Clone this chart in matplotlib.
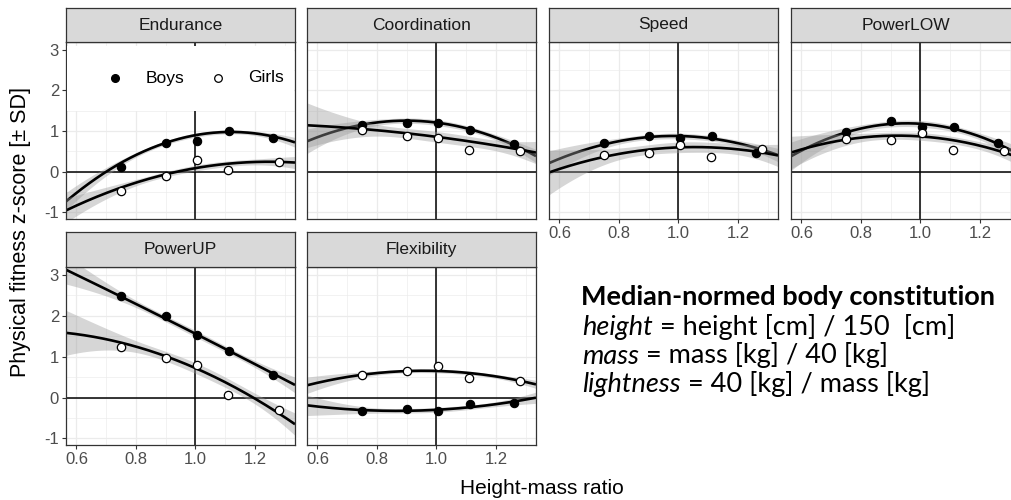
import numpy as np
import matplotlib
matplotlib.use("Agg")
import matplotlib.pyplot as plt
from matplotlib.patches import Rectangle

# ---- data ----
panels = ["Endurance", "Coordination", "Speed", "PowerLOW", "PowerUP", "Flexibility"]

x_boys = [0.75, 0.90, 1.005, 1.113, 1.26]
x_girls = [0.75, 0.90, 1.005, 1.11, 1.28]

boys_scores = [
    [0.11, 0.70, 0.76, 1.00, 0.84],
    [1.15, 1.21, 1.19, 1.02, 0.69],
    [0.70, 0.89, 0.84, 0.88, 0.46],
    [0.97, 1.24, 1.10, 1.09, 0.72],
    [2.48, 1.99, 1.52, 1.13, 0.54],
    [-0.32, -0.28, -0.32, -0.15, -0.14],
]
girls_scores = [
    [-0.48, -0.10, 0.28, 0.05, 0.23],
    [1.03, 0.89, 0.83, 0.53, 0.50],
    [0.42, 0.47, 0.65, 0.36, 0.57],
    [0.80, 0.77, 0.95, 0.54, 0.52],
    [1.23, 0.97, 0.80, 0.07, -0.31],
    [0.56, 0.65, 0.77, 0.47, 0.40],
]

# quadratic smooth, read at three x positions
curve_x = [0.6, 1.0, 1.3]
boys_curve = [
    [-0.52, 0.90, 0.80],
    [0.85, 1.21, 0.52],
    [0.32, 0.88, 0.50],
    [0.52, 1.18, 0.55],
    [3.00, 1.56, 0.44],
    [-0.22, -0.30, -0.05],
]
girls_curve = [
    [-0.83, 0.09, 0.24],
    [1.13, 0.86, 0.52],
    [0.07, 0.60, 0.45],
    [0.55, 0.87, 0.43],
    [1.55, 0.72, -0.48],
    [0.36, 0.65, 0.38],
]
# half width of the grey band at the left edge of each panel
boys_band = [0.22, 0.30, 0.30, 0.35, 0.35, 0.25]
girls_band = [0.30, 0.55, 0.55, 0.40, 0.55, 0.20]

info_title = "Median-normed body constitution"
info_lines = [("height", " = height [cm] / 150  [cm]"),
              ("mass", " = mass [kg] / 40 [kg]"),
              ("lightness", " = 40 [kg] / mass [kg]")]

# ---- layout ----
W, H = 1012, 500
fig = plt.figure(figsize=(W / 100, H / 100), dpi=100)
plt.rcParams['font.family'] = ['Liberation Sans', 'DejaVu Sans']

XLIM = (0.565, 1.335)
YLIM = (-1.16, 3.19)
col_left = [66, 307, 549, 791]
pw = 229
rows = [(8, 42, 219), (232, 267, 445)]

grid = np.linspace(XLIM[0], XLIM[1], 200)


def px_axes(x0, y0, x1, y1):
    return fig.add_axes([x0 / W, 1 - y1 / H, (x1 - x0) / W, (y1 - y0) / H])


def band(xs, left_hw):
    X = np.vander(np.array(xs), 3)
    M = np.linalg.inv(X.T @ X)
    G = np.vander(grid, 3)
    lev = np.einsum('ij,jk,ik->i', G, M, G)
    return left_hw * np.sqrt(lev / lev[0])


for i, name in enumerate(panels):
    r, c = divmod(i, 4)
    st, pt, pb = rows[r]
    x0 = col_left[c]
    ax = px_axes(x0, pt, x0 + pw, pb)
    sax = px_axes(x0, st, x0 + pw, pt)

    # strip
    sax.set_facecolor('#D9D9D9')
    sax.set_xticks([])
    sax.set_yticks([])
    for s in sax.spines.values():
        s.set_color('#333333')
        s.set_linewidth(0.9)
    sax.text(0.5, 0.5, name, ha='center', va='center', fontsize=12.5,
             color='#1A1A1A', transform=sax.transAxes)

    ax.set_xlim(*XLIM)
    ax.set_ylim(*YLIM)
    ax.set_xticks([0.6, 0.8, 1.0, 1.2])
    ax.set_xticklabels(["0.6", "0.8", "1.0", "1.2"])
    ax.set_xticks([0.7, 0.9, 1.1, 1.3], minor=True)
    ax.set_yticks([-1, 0, 1, 2, 3])
    ax.set_yticklabels(["-1", "0", "1", "2", "3"])
    ax.set_yticks([-0.5, 0.5, 1.5, 2.5], minor=True)
    ax.grid(which='major', color='#EBEBEB', lw=0.9, zorder=0)
    ax.grid(which='minor', color='#EBEBEB', lw=0.45, zorder=0)
    ax.set_axisbelow(True)
    ax.tick_params(which='minor', length=0)
    ax.tick_params(which='major', length=3, width=0.8, color='#333333',
                   labelcolor='#4D4D4D', labelsize=12, pad=2)
    for s in ax.spines.values():
        s.set_color('#333333')
        s.set_linewidth(0.9)

    show_x = r == 1 or c >= 2
    ax.tick_params(bottom=show_x, labelbottom=show_x, left=(c == 0), labelleft=(c == 0))

    ax.axhline(0, color='black', lw=1.1, zorder=1)
    ax.axvline(1.0, color='black', lw=1.1, zorder=1)

    for xs, curve, hw in [(x_boys, boys_curve[i], boys_band[i]),
                          (x_girls, girls_curve[i], girls_band[i])]:
        coef = np.polyfit(curve_x, curve, 2)
        yfit = np.polyval(coef, grid)
        half = band(xs, hw)
        ax.fill_between(grid, yfit - half, yfit + half, color='#999999',
                        alpha=0.4, lw=0, zorder=2)
        ax.plot(grid, yfit, color='black', lw=1.9, zorder=2, solid_capstyle='butt')

    ax.plot(x_boys, boys_scores[i], 'o', ms=6, mfc='black', mec='black',
            mew=0.8, zorder=4, clip_on=False)
    ax.plot(x_girls, girls_scores[i], 'o', ms=6, mfc='white', mec='black',
            mew=0.9, zorder=4, clip_on=False)

    if i == 0:
        # legend sits inside the first panel on a white box
        ax.add_patch(Rectangle((0.004, 0.61), 0.992, 0.367, transform=ax.transAxes,
                               facecolor='white', edgecolor='none', zorder=3))
        ly = (pb - 78) / (pb - pt)
        ax.plot([(115 - x0) / pw], [ly], 'o', ms=5.5, mfc='black', mec='black',
                transform=ax.transAxes, zorder=5)
        ax.text((146 - x0) / pw, ly, "Boys", fontsize=12.5, va='center',
                transform=ax.transAxes, zorder=5)
        ax.plot([(218 - x0) / pw], [ly], 'o', ms=5.5, mfc='white', mec='black',
                mew=0.9, transform=ax.transAxes, zorder=5)
        ax.text((248 - x0) / pw, ly, "Girls", fontsize=12.5, va='center',
                transform=ax.transAxes, zorder=5)

# axis titles
fig.text(542 / W, 1 - 488 / H, "Height-mass ratio", ha='center', va='center', fontsize=15)
fig.text(21 / W, 1 - 232 / H, "Physical fitness z-score [\u00b1 SD]", ha='center',
         va='center', rotation=90, fontsize=15.5)

# info block on the right
renderer = fig.canvas.get_renderer()
fs = 19.5
fig.text(581 / W, 1 - 305 / H, info_title, fontsize=fs, fontweight='bold',
         family='Lato', va='baseline')
for k, (it, rest) in enumerate(info_lines):
    yb = 1 - (335 + 28.5 * k) / H
    t = fig.text(582 / W, yb, it, fontsize=fs, style='italic', family='Lato', va='baseline')
    bb = t.get_window_extent(renderer)
    fig.text(bb.x1 / W, yb, rest, fontsize=fs, family='Lato', va='baseline')

fig.savefig("out.png", dpi=100)
